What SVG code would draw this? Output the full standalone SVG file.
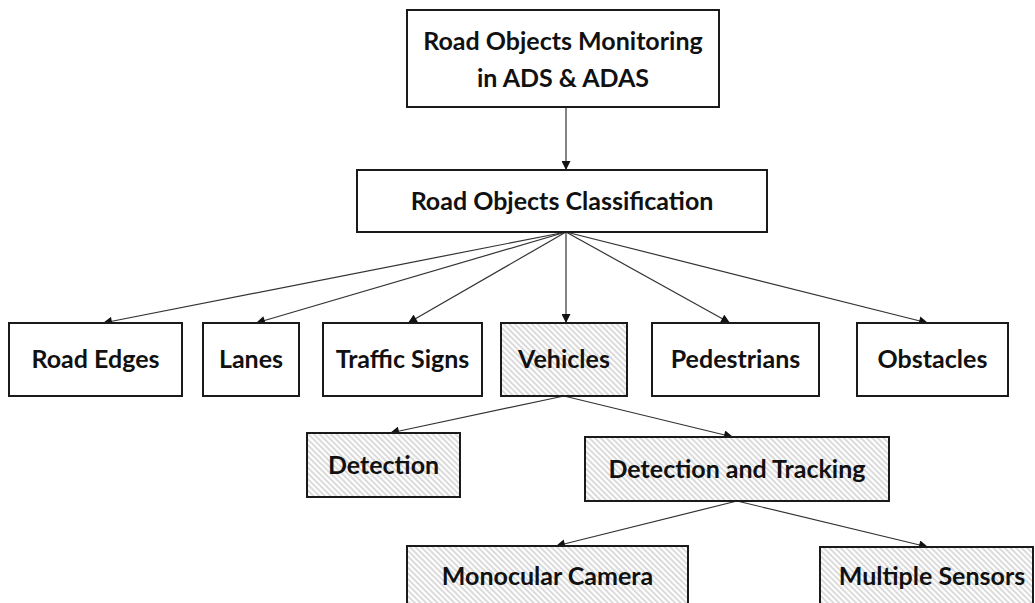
<svg xmlns="http://www.w3.org/2000/svg" width="1035" height="603" viewBox="0 0 1035 603">
<style>
.box{fill:#fff;stroke:#1a1a1a;stroke-width:2}
.hatch{fill:url(#hatch);stroke:#1a1a1a;stroke-width:2}
.t{font-family:Lato,"Liberation Sans",sans-serif;font-weight:700;font-size:25px;fill:#111;text-anchor:middle}
.c{stroke:#333;stroke-width:1.2;fill:none;marker-end:url(#ah)}
</style>
<defs>
<pattern id="hatch" patternUnits="userSpaceOnUse" width="4" height="4" patternTransform="rotate(45)">
<rect width="4" height="4" fill="#fff"/>
<line x1="0" y1="1" x2="4" y2="1" stroke="#c4c4c4" stroke-width="1.2"/>
</pattern>
<marker id="ah" viewBox="0 0 10 10" refX="10" refY="5" markerWidth="10" markerHeight="9" markerUnits="userSpaceOnUse" orient="auto">
<path d="M0,0 L10,5 L0,10 z" fill="#111"/>
</marker>
</defs>
<g id="connectors">
<line class="c" x1="566" y1="107" x2="566" y2="170"/>
<line class="c" x1="566" y1="232" x2="103" y2="323"/>
<line class="c" x1="566" y1="232" x2="256" y2="323"/>
<line class="c" x1="566" y1="232" x2="408" y2="323"/>
<line class="c" x1="566" y1="232" x2="566" y2="323"/>
<line class="c" x1="566" y1="232" x2="730" y2="323"/>
<line class="c" x1="566" y1="232" x2="928" y2="323"/>
<line class="c" x1="564" y1="396" x2="390" y2="433"/>
<line class="c" x1="564" y1="396" x2="733" y2="437"/>
<line class="c" x1="737" y1="501" x2="556" y2="546"/>
<line class="c" x1="737" y1="501" x2="928" y2="547"/>
</g>
<g id="n-root"><rect class="box" x="407" y="10" width="312" height="97"/><text class="t" x="563" y="50">Road Objects Monitoring</text><text class="t" x="563" y="87">in ADS &amp; ADAS</text></g>
<g id="n-class"><rect class="box" x="357" y="170" width="410" height="62"/><text class="t" x="562" y="210">Road Objects Classification</text></g>
<g id="n-roadedges"><rect class="box" x="9" y="323" width="173" height="73"/><text class="t" x="95.5" y="368">Road Edges</text></g>
<g id="n-lanes"><rect class="box" x="203" y="323" width="96" height="73"/><text class="t" x="251" y="368">Lanes</text></g>
<g id="n-traffic"><rect class="box" x="323" y="323" width="159" height="73"/><text class="t" x="402.5" y="368">Traffic Signs</text></g>
<g id="n-vehicles"><rect class="hatch" x="501" y="323" width="126" height="73"/><text class="t" x="564" y="368">Vehicles</text></g>
<g id="n-pedestrians"><rect class="box" x="652" y="323" width="167" height="73"/><text class="t" x="735.5" y="368">Pedestrians</text></g>
<g id="n-obstacles"><rect class="box" x="857" y="323" width="151" height="73"/><text class="t" x="932.5" y="368">Obstacles</text></g>
<g id="n-detection"><rect class="hatch" x="307" y="433" width="153" height="64"/><text class="t" x="383.5" y="474">Detection</text></g>
<g id="n-dt"><rect class="hatch" x="585" y="437" width="304" height="64"/><text class="t" x="737" y="478">Detection and Tracking</text></g>
<g id="n-mono"><rect class="hatch" x="407" y="546" width="281" height="70"/><text class="t" x="547.5" y="585">Monocular Camera</text></g>
<g id="n-multi"><rect class="hatch" x="820" y="547" width="213" height="70"/><text class="t" x="932" y="585">Multiple Sensors</text></g>
</svg>
